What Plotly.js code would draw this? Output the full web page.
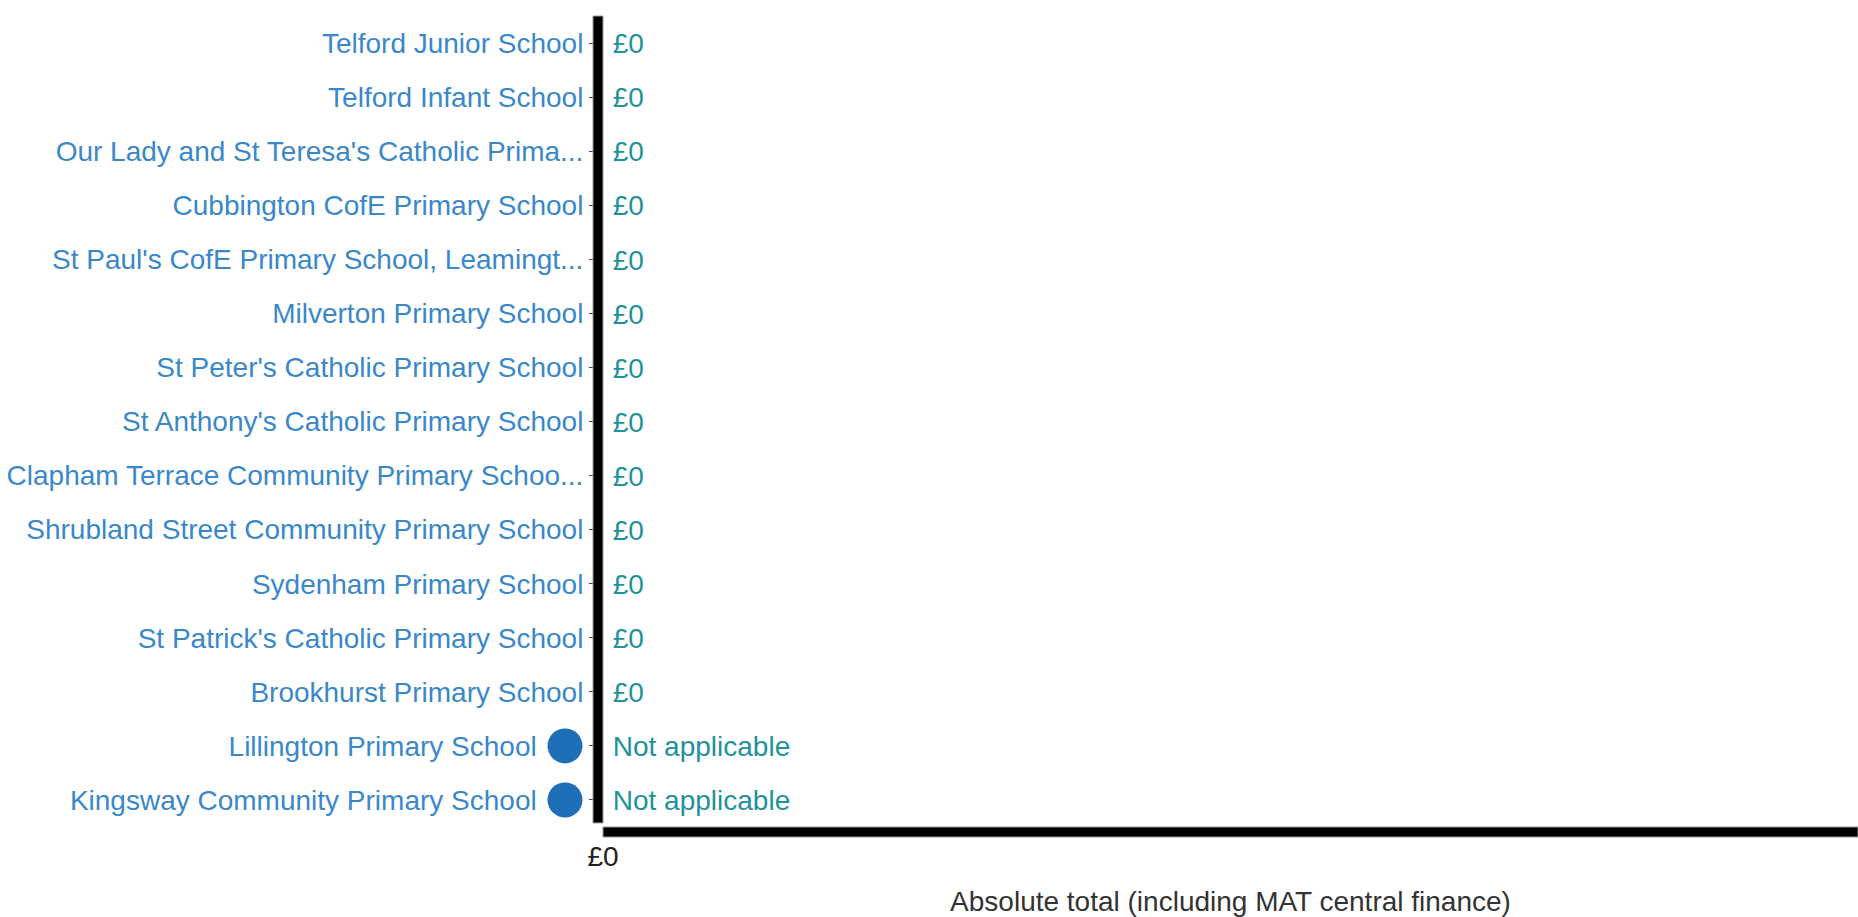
<!DOCTYPE html>
<html>
<head>
<meta charset="utf-8">
<script src="https://cdn.plot.ly/plotly-3.0.1.min.js"></script>
<style>html,body{margin:0;padding:0;background:#fff;}#chart{width:1858px;height:917px;}</style>
</head>
<body>
<div id="chart"></div>
<script>
// ---- data ----
const categories = [
  "Telford Junior School",
  "Telford Infant School",
  "Our Lady and St Teresa's Catholic Prima...",
  "Cubbington CofE Primary School",
  "St Paul's CofE Primary School, Leamingt...",
  "Milverton Primary School",
  "St Peter's Catholic Primary School",
  "St Anthony's Catholic Primary School",
  "Clapham Terrace Community Primary Schoo...",
  "Shrubland Street Community Primary School",
  "Sydenham Primary School",
  "St Patrick's Catholic Primary School",
  "Brookhurst Primary School",
  "Lillington Primary School",
  "Kingsway Community Primary School"
];
const values = [0, 0, 0, 0, 0, 0, 0, 0, 0, 0, 0, 0, 0, null, null];
const xTickValues = [0];
const xTickLabels = ["£0"];
const notApplicableText = "Not applicable";
const xAxisTitle = "Absolute total (including MAT central finance)";

// ---- derived ----
const FONT = "Liberation Sans, Arial, sans-serif";
const FS = 28;
const pad = "\u00a0".repeat(6);
const tickText = categories.map((c, i) => values[i] === null ? c + pad : c);
const valueLabels = values.map(v => v === null ? notApplicableText : "£" + v);
const naCats = categories.filter((c, i) => values[i] === null);

const W = 1858, H = 917;
const plotLeft = 603;
const n = categories.length;
const textShift = 0.06;

const traces = [
  {
    type: "scatter",
    mode: "markers+text",
    x: values.map(v => v === null ? 0 : v),
    y: categories,
    yaxis: "y2",
    text: valueLabels,
    textposition: "middle right",
    textfont: {family: FONT, size: FS, color: "#22929a"},
    marker: {size: 14, color: "rgba(0,0,0,0)"},
    cliponaxis: false,
    hoverinfo: "skip",
    showlegend: false
  },
  {
    type: "scatter",
    mode: "markers",
    x: naCats.map(() => 0),
    y: naCats,
    xaxis: "x2",
    marker: {size: 35, color: "#1f6eb8"},
    cliponaxis: false,
    hoverinfo: "skip",
    showlegend: false
  }
];

const layout = {
  width: W, height: H,
  margin: {l: 0, r: 0, t: 16, b: 90},
  paper_bgcolor: "#fff",
  plot_bgcolor: "#fff",
  showlegend: false,
  font: {family: FONT, size: FS, color: "#333"},
  xaxis: {
    domain: [plotLeft / W, 1],
    range: [0, 1],
    tickvals: xTickValues,
    ticktext: xTickLabels,
    ticks: "outside", ticklen: 4, tickcolor: "rgba(0,0,0,0)",
    tickfont: {family: FONT, size: FS, color: "#222"},
    showgrid: false, zeroline: false, showline: false,
    fixedrange: true,
    automargin: false,
    title: {text: xAxisTitle, font: {family: FONT, size: FS, color: "#333"}, standoff: 26}
  },
  xaxis2: {
    domain: [547 / W, 583 / W],
    range: [-1, 1],
    visible: false,
    anchor: "y",
    fixedrange: true
  },
  yaxis: {
    type: "category",
    categoryorder: "array",
    categoryarray: categories,
    range: [n - 0.5, -0.5],
    tickvals: categories,
    ticktext: tickText,
    ticks: "outside", ticklen: 13, tickcolor: "#444", tickwidth: 1,
    tickfont: {family: FONT, size: FS, color: "#3a87c9"},
    showgrid: false, zeroline: false, showline: false,
    fixedrange: true,
    automargin: false
  },
  yaxis2: {
    type: "category",
    categoryorder: "array",
    categoryarray: categories,
    overlaying: "y",
    anchor: "x",
    range: [n - 0.5 - textShift, -0.5 - textShift],
    visible: false,
    fixedrange: true
  },
  shapes: [
    {
      type: "rect", layer: "above",
      xref: "x domain", xsizemode: "pixel", xanchor: 0, x0: -10, x1: 0,
      yref: "y domain", y0: 0.005, y1: 1,
      fillcolor: "#000", line: {color: "#999", width: 1}
    },
    {
      type: "rect", layer: "above",
      xref: "x domain", x0: 0, x1: 1,
      yref: "y domain", ysizemode: "pixel", yanchor: 0, y0: -10, y1: 0,
      fillcolor: "#000", line: {color: "#999", width: 1}
    }
  ]
};

Plotly.newPlot("chart", traces, layout, {displayModeBar: false, staticPlot: true});
</script>
</body>
</html>
